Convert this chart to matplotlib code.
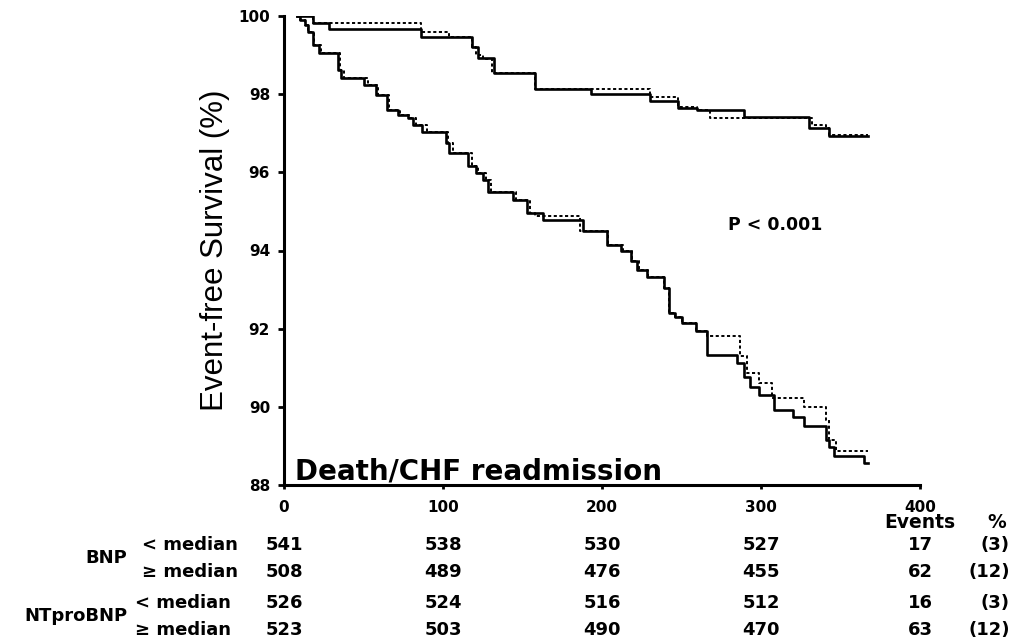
import matplotlib
matplotlib.use("Agg")
import matplotlib.pyplot as plt
from matplotlib.transforms import blended_transform_factory

W, H = 1014, 639

# Kaplan-Meier steps (day of drop, survival % after drop)
upper_solid_t = [8, 18, 28, 86, 118, 122, 132, 158, 193, 230, 248, 260, 289, 330, 343, 367]
upper_solid_s = [100, 99.83, 99.66, 99.45, 99.2, 98.92, 98.53, 98.13, 98.0, 97.83, 97.64, 97.6, 97.41, 97.13, 96.93, 96.93]

upper_dash_t = [8, 18, 86, 104, 118, 121, 125, 131, 158, 230, 248, 260, 268, 332, 341, 343, 367]
upper_dash_s = [100, 99.83, 99.58, 99.45, 99.2, 99.0, 98.9, 98.54, 98.13, 97.94, 97.68, 97.6, 97.39, 97.21, 97.13, 96.95, 96.95]

lower_solid_t = [8, 10, 13, 15, 18, 22, 34, 36, 50, 58, 65, 72, 78, 81, 87, 102, 104, 116, 121, 125,
                 128, 144, 153, 163, 188, 203, 212, 218, 222, 228, 239, 242, 246, 250, 259, 266, 285,
                 289, 293, 299, 308, 320, 327, 341, 343, 346, 365, 367]
lower_solid_s = [100, 99.9, 99.77, 99.6, 99.26, 99.06, 98.62, 98.41, 98.24, 97.98, 97.6, 97.47, 97.39,
                 97.21, 97.04, 96.75, 96.5, 96.15, 95.98, 95.8, 95.5, 95.3, 94.96, 94.78, 94.5, 94.15,
                 94.0, 93.72, 93.5, 93.33, 93.04, 92.4, 92.3, 92.15, 91.93, 91.33, 91.12, 90.77, 90.52,
                 90.3, 89.92, 89.75, 89.5, 89.16, 88.98, 88.73, 88.57, 88.57]

lower_dash_t = [8, 10, 13, 15, 19, 23, 35, 38, 53, 59, 66, 73, 79, 83, 90, 103, 106, 118, 122, 127,
                130, 146, 155, 158, 186, 204, 213, 219, 223, 229, 239, 242, 246, 250, 259, 266, 287,
                291, 299, 307, 327, 341, 343, 347, 365, 367]
lower_dash_s = [100, 99.9, 99.77, 99.6, 99.26, 99.06, 98.62, 98.41, 98.24, 97.98, 97.6, 97.47, 97.39,
                97.21, 97.04, 96.75, 96.5, 96.15, 95.98, 95.8, 95.5, 95.3, 94.96, 94.87, 94.5, 94.15,
                94.0, 93.72, 93.5, 93.33, 93.04, 92.4, 92.3, 92.15, 91.93, 91.8, 91.29, 90.87, 90.6,
                90.23, 90.0, 89.67, 89.16, 88.86, 88.86, 88.86]

x_ticks = [0, 100, 200, 300, 400]
y_ticks = [88, 90, 92, 94, 96, 98, 100]

# numbers at risk
risk_days = [0, 100, 200, 300]
row_groups = ["BNP", "NTproBNP"]
row_labels = ["< median", "\u2265 median", "< median", "\u2265 median"]
at_risk = [
    [541, 538, 530, 527],
    [508, 489, 476, 455],
    [526, 524, 516, 512],
    [523, 503, 490, 470],
]
events = [17, 62, 16, 63]
event_pct = ["(3)", "(12)", "(3)", "(12)"]

fig = plt.figure(figsize=(W / 100, H / 100), dpi=100)
ax = fig.add_axes([284 / W, 1 - 485 / H, 636 / W, 469 / H])

ax.step(upper_solid_t, upper_solid_s, where="post", color="black", lw=1.9)
ax.step(upper_dash_t, upper_dash_s, where="post", color="black", lw=1.4, linestyle=(0, (1.6, 1.3)))
ax.step(lower_solid_t, lower_solid_s, where="post", color="black", lw=1.9)
ax.step(lower_dash_t, lower_dash_s, where="post", color="black", lw=1.4, linestyle=(0, (1.6, 1.3)))

ax.set_xlim(0, 400)
ax.set_ylim(88, 100)
ax.set_xticks(x_ticks)
ax.set_yticks(y_ticks)
for s in ["top", "right"]:
    ax.spines[s].set_visible(False)
for s in ["left", "bottom"]:
    ax.spines[s].set_linewidth(2.2)
ax.tick_params(axis="y", length=4, width=2, pad=6)
ax.tick_params(axis="x", length=3, width=2, pad=8)
for lab in ax.get_xticklabels() + ax.get_yticklabels():
    lab.set_fontfamily("DejaVu Sans")
    lab.set_fontweight("bold")
    lab.set_fontsize(11)

ax.set_ylabel("Event-free Survival (%)", fontsize=22.5, family="Liberation Sans", labelpad=6)

ax.text(7, 88.15, "Death/CHF readmission", fontsize=20, fontweight="bold", va="baseline", ha="left")
ax.text(309, 94.65, "P < 0.001", fontsize=12.5, fontweight="bold", ha="center", va="center")

# at-risk table below the axis
tr = blended_transform_factory(ax.transData, fig.transFigure)
row_y = [545, 572, 603, 630]
tfs = 13
for i, y in enumerate(row_y):
    fy = 1 - y / H
    for d, n in zip(risk_days, at_risk[i]):
        ax.text(d, fy, str(n), transform=tr, ha="center", va="center", fontsize=tfs,
                fontweight="bold", clip_on=False)
    ax.text(400, fy, str(events[i]), transform=tr, ha="center", va="center", fontsize=tfs,
            fontweight="bold", clip_on=False)
    fig.text(1010 / W, fy, event_pct[i], ha="right", va="center", fontsize=tfs, fontweight="bold")
    left = 142 if i < 2 else 135
    fig.text(left / W, fy, row_labels[i], ha="left", va="center", fontsize=tfs, fontweight="bold")

fig.text(127 / W, 1 - 558 / H, row_groups[0], ha="right", va="center", fontsize=tfs, fontweight="bold")
fig.text(127 / W, 1 - 616 / H, row_groups[1], ha="right", va="center", fontsize=tfs, fontweight="bold")

ax.text(400, 1 - 523 / H, "Events", transform=tr, ha="center", va="center", fontsize=13.5,
        fontweight="bold", clip_on=False)
fig.text(997 / W, 1 - 523 / H, "%", ha="center", va="center", fontsize=13.5, fontweight="bold")

fig.savefig("out.png", dpi=100)
